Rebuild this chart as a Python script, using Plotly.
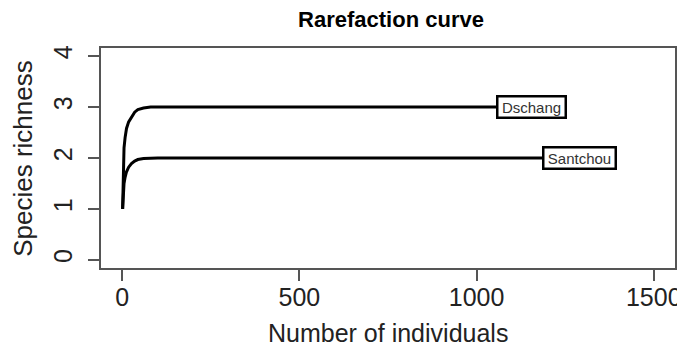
import plotly.graph_objects as go

dschang_n = [1, 2, 3, 5, 8, 12, 18, 26, 35, 44, 60, 80, 1156]
dschang_s = [1.0, 1.6, 1.95, 2.2, 2.4, 2.58, 2.71, 2.81, 2.9, 2.95, 2.98, 3.0, 3.0]
santchou_n = [1, 2, 3, 5, 8, 12, 18, 26, 35, 44, 60, 80, 100, 1290]
santchou_s = [1.0, 1.2, 1.35, 1.5, 1.62, 1.73, 1.82, 1.89, 1.94, 1.97, 1.99, 2.0, 2.0, 2.0]
site_names = ["Dschang", "Santchou"]

x_ticks = [0, 500, 1000, 1500]
y_ticks = [0, 1, 2, 3, 4]

FONT = "Liberation Sans, Arial, sans-serif"

L, R, T, B = 93, 12, 40, 88
W, H = 685, 348
PW, PH = W - L - R, H - T - B

fig = go.Figure()
for n, s in [(dschang_n, dschang_s), (santchou_n, santchou_s)]:
    fig.add_trace(go.Scatter(x=n, y=s, mode="lines",
                             line=dict(color="black", width=3),
                             showlegend=False, hoverinfo="skip"))

for name, n, s, w in [(site_names[0], dschang_n, dschang_s, 66),
                      (site_names[1], santchou_n, santchou_s, 70)]:
    fig.add_annotation(x=n[-1], y=s[-1], text=name, showarrow=False,
                       font=dict(family=FONT, size=15, color="#333333"),
                       bgcolor="white", bordercolor="black", borderwidth=2.5, borderpad=0,
                       width=w, height=19, align="center", valign="middle",
                       xanchor="center", yanchor="middle")

# axis titles
fig.add_annotation(xref="paper", yref="paper", x=0.5, y=(T + PH - 325) / PH,
                   text="Number of individuals", showarrow=False,
                   font=dict(family=FONT, size=25, color="#222222"),
                   xanchor="center", yanchor="middle")
fig.add_annotation(xref="paper", yref="paper", x=(14 - L) / PW, y=0.5,
                   text="Species richness", showarrow=False, textangle=-90,
                   font=dict(family=FONT, size=26, color="#222222"),
                   xanchor="center", yanchor="middle")

fig.update_layout(
    width=W, height=H,
    margin=dict(l=L, r=R, t=T, b=B),
    paper_bgcolor="white", plot_bgcolor="white",
    title=dict(text="<b>Rarefaction curve</b>", x=(L + W - R) / 2 / W, xanchor="center",
               yref="container", y=1 - 4 / H, yanchor="top",
               font=dict(family=FONT, size=22, color="black")),
    font=dict(family=FONT, color="black"),
)
fig.update_xaxes(range=[-60, 1560], tickvals=x_ticks, ticktext=[str(v) for v in x_ticks],
                 showgrid=False, zeroline=False, showline=True, mirror=True,
                 linecolor="#555555", linewidth=1.5,
                 ticks="outside", ticklen=11, tickwidth=1.5, tickcolor="#555555",
                 ticklabelstandoff=-5,
                 tickfont=dict(family=FONT, size=25, color="#222222"))
fig.update_yaxes(range=[-0.16, 4.16], tickvals=y_ticks, ticktext=[str(v) for v in y_ticks],
                 tickangle=-90, ticklabelstandoff=6,
                 showgrid=False, zeroline=False, showline=True, mirror=True,
                 linecolor="#555555", linewidth=1.5,
                 ticks="outside", ticklen=11, tickwidth=1.5, tickcolor="#555555",
                 tickfont=dict(family=FONT, size=25, color="#222222"))

fig.write_html("out.html")
